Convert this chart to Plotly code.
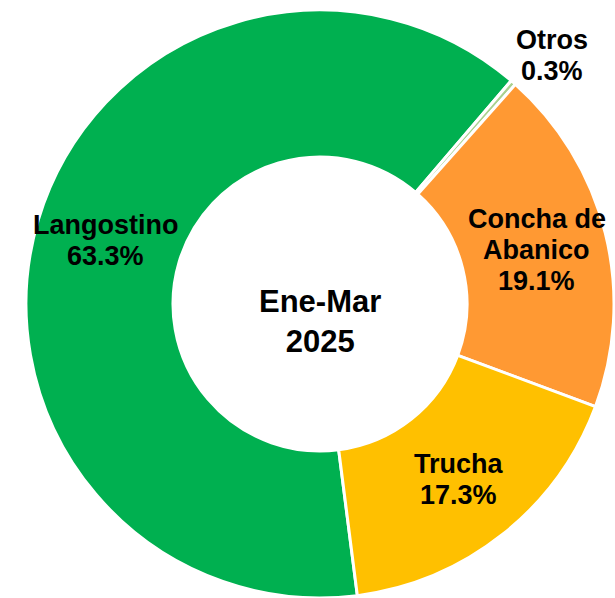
import math

import plotly.graph_objects as go

labels = ["Langostino", "Otros", "Concha de<br>Abanico", "Trucha"]
shares = [63.3, 0.3, 19.1, 17.3]
colors = ["#00B050", "#A9D18E", "#FF9933", "#FFC000"]
center_text = "Ene-Mar<br>2025"

W, H = 615, 598
START = 172.7  # degrees clockwise from 12 o'clock where the first slice begins
HOLE = 0.5
LINE = 31  # px between label lines
FONT = "Liberation Sans"

# pie domain in pixels
X0, X1 = 25, 615
Y0, Y1 = 10, 598
cx, cy = (X0 + X1) / 2, (Y0 + Y1) / 2
R = min(X1 - X0, Y1 - Y0) / 2

fig = go.Figure(
    go.Pie(
        labels=labels,
        values=shares,
        hole=HOLE,
        sort=False,
        direction="clockwise",
        rotation=START,
        marker=dict(colors=colors, line=dict(color="white", width=3)),
        textinfo="none",
        domain=dict(x=[X0 / W, X1 / W], y=[1 - Y1 / H, 1 - Y0 / H]),
        showlegend=False,
        hoverinfo="label+percent",
    )
)

# slice labels at each slice's middle angle, one annotation per line
total = sum(shares)
cum = 0.0
for lab, val in zip(labels, shares):
    mid = math.radians(START + (cum + val / 2) / total * 360)
    cum += val
    small = val / total < 0.02
    rad = R * 1.16 if small else R * 0.76
    px_ = cx + rad * math.sin(mid)
    py_ = cy - rad * math.cos(mid)
    lines = lab.split("<br>") + [f"{val:.1f}%"]
    n = len(lines)
    for i, line in enumerate(lines):
        fig.add_annotation(
            text=line,
            x=px_ / W,
            y=1 - py_ / H,
            xref="paper",
            yref="paper",
            xshift=8 if small else 0,
            yshift=((n - 1) / 2 - i) * LINE - (8 if small else 0),
            showarrow=False,
            xanchor="center",
            yanchor="middle",
            font=dict(family=FONT, size=27, color="black", weight="bold"),
        )

fig.add_annotation(
    text=center_text,
    x=cx / W,
    y=1 - cy / H,
    xref="paper",
    yref="paper",
    yshift=-17,
    showarrow=False,
    font=dict(family=FONT, size=31, color="black", weight="bold"),
)
fig.update_layout(
    width=W,
    height=H,
    margin=dict(l=0, r=0, t=0, b=0),
    paper_bgcolor="white",
    plot_bgcolor="white",
)
fig.write_html(
    "out.html",
    config={"displayModeBar": False},
    post_script="document.body.style.margin='0';",
)
